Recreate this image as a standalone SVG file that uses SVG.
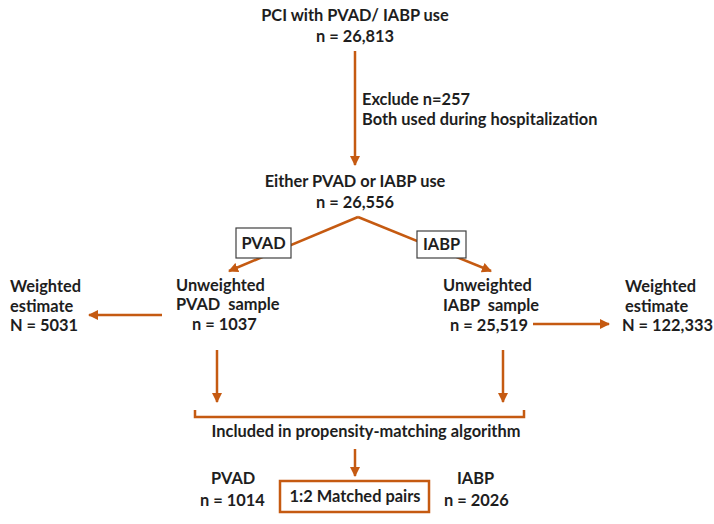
<svg xmlns="http://www.w3.org/2000/svg" width="714" height="524" viewBox="0 0 714 524">
<style>
text{font-family:Lato,"Liberation Sans",sans-serif;font-weight:bold;font-size:16.4px;fill:#1e1e1e;white-space:pre}
.c{text-anchor:middle}
.ln{stroke:#C55A11;stroke-width:2.5;fill:none}
.box{fill:#fff;stroke:#404040;stroke-width:1.2}
</style>
<defs>
<marker id="ah" viewBox="0 0 10 10" refX="9" refY="5" markerWidth="4" markerHeight="4" orient="auto" markerUnits="strokeWidth">
<path d="M0,0 L10,5 L0,10 z" fill="#C55A11"/>
</marker>
</defs>
<g id="connectors">
<line class="ln" x1="355" y1="51" x2="355" y2="165" marker-end="url(#ah)"/>
<polyline class="ln" points="358,217 229,271" marker-end="url(#ah)"/>
<polyline class="ln" points="358,217 491,271" marker-end="url(#ah)"/>
<line class="ln" x1="162" y1="315" x2="89" y2="315" marker-end="url(#ah)"/>
<line class="ln" x1="533" y1="324" x2="609" y2="324" marker-end="url(#ah)"/>
<line class="ln" x1="217" y1="350" x2="217" y2="402" marker-end="url(#ah)"/>
<line class="ln" x1="503" y1="350" x2="503" y2="402" marker-end="url(#ah)"/>
<polyline class="ln" points="195,410 195,417 524,417 524,410"/>
<line class="ln" x1="355" y1="449" x2="355" y2="476" marker-end="url(#ah)"/>
</g>
<g id="start"><text class="c" x="355" y="21">PCI with PVAD/ IABP use</text><text class="c" x="355" y="42">n = 26,813</text></g>
<g id="exclude"><text x="362" y="105">Exclude n=257</text><text x="362" y="125">Both used during hospitalization</text></g>
<g id="either"><text class="c" x="355" y="187">Either PVAD or IABP use</text><text class="c" x="355" y="208">n = 26,556</text></g>
<g id="pvad-label"><rect class="box" x="236" y="228" width="55" height="30"/><text class="c" x="263.5" y="249">PVAD</text></g>
<g id="iabp-label"><rect class="box" x="417" y="231" width="49" height="27"/><text class="c" x="441.5" y="250">IABP</text></g>
<g id="pvad-sample"><text x="176" y="291">Unweighted</text><text x="176" y="310">PVAD  sample</text><text x="192" y="330">n = 1037</text></g>
<g id="pvad-weighted"><text x="10" y="292">Weighted</text><text x="10" y="312">estimate</text><text x="10" y="331">N = 5031</text></g>
<g id="iabp-sample"><text x="443" y="291">Unweighted</text><text x="443" y="311">IABP  sample</text><text x="450" y="331">n = 25,519</text></g>
<g id="iabp-weighted"><text x="625" y="292">Weighted</text><text x="625" y="312">estimate</text><text x="622" y="331">N = 122,333</text></g>
<g id="included"><text class="c" x="366" y="437">Included in propensity-matching algorithm</text></g>
<g id="matched"><rect x="280" y="481" width="149" height="31" fill="#fff" stroke="#C55A11" stroke-width="2.5"/><text class="c" x="355" y="502">1:2 Matched pairs</text></g>
<g id="pvad-n"><text x="211" y="484">PVAD</text><text x="200" y="506">n = 1014</text></g>
<g id="iabp-n"><text x="457" y="484">IABP</text><text x="444" y="506">n = 2026</text></g>
</svg>
